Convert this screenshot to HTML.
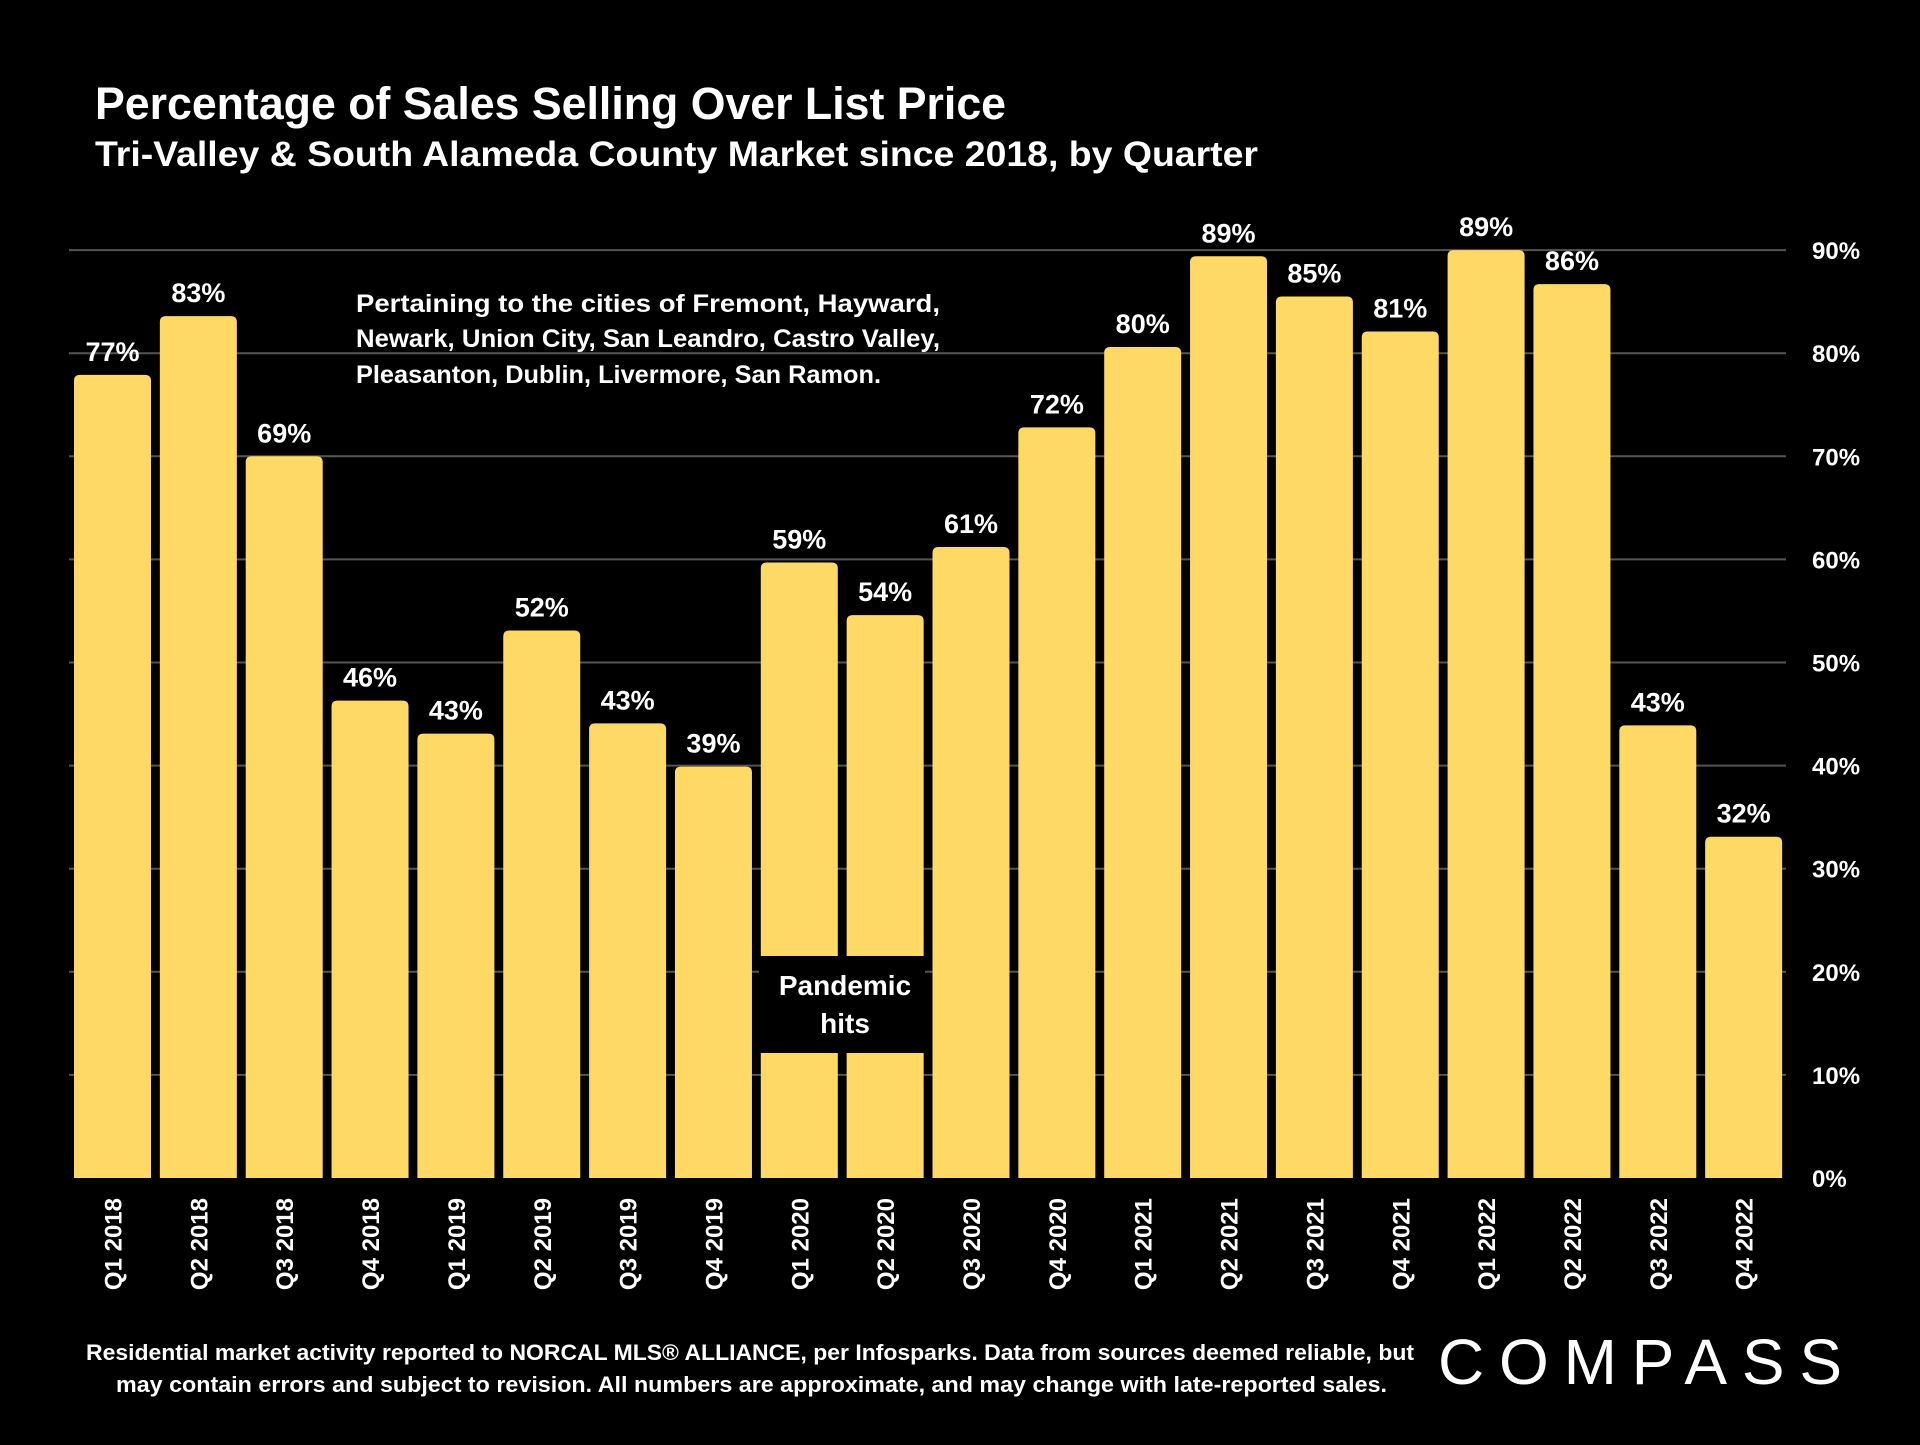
<!DOCTYPE html>
<html><head><meta charset="utf-8">
<style>
html,body{margin:0;padding:0;background:#000;}
body{width:1920px;height:1440px;overflow:hidden;font-family:"Liberation Sans",sans-serif;}
</style></head>
<body>
<svg id="chart" width="1920" height="1440" xmlns="http://www.w3.org/2000/svg">
<rect width="1920" height="1440" fill="#000"/>
<text x="95" y="119" fill="#fff" font-size="45" font-weight="bold" textLength="911" lengthAdjust="spacingAndGlyphs">Percentage of Sales Selling Over List Price</text>
<text x="95" y="166" fill="#fff" font-size="35" font-weight="bold" textLength="1163" lengthAdjust="spacingAndGlyphs">Tri-Valley &amp; South Alameda County Market since 2018, by Quarter</text>
<g id="grid"></g>
<g id="bars"></g>
<g id="labels"></g>
<g id="yticks"></g>
<g id="xticks"></g>
<g fill="#fff" font-size="25" font-weight="bold">
<text x="356" y="312" textLength="584" lengthAdjust="spacingAndGlyphs">Pertaining to the cities of Fremont, Hayward,</text>
<text x="356" y="347" textLength="584" lengthAdjust="spacingAndGlyphs">Newark, Union City, San Leandro, Castro Valley,</text>
<text x="356" y="383" textLength="525" lengthAdjust="spacingAndGlyphs">Pleasanton, Dublin, Livermore, San Ramon.</text>
</g>
<rect x="759" y="956" width="166" height="97" fill="#000"/>
<g fill="#fff" font-size="28" font-weight="bold" text-anchor="middle">
<text x="845" y="995">Pandemic</text>
<text x="845" y="1033">hits</text>
</g>
<g fill="#fff" font-size="22" font-weight="bold">
<text x="86" y="1360" textLength="1328" lengthAdjust="spacingAndGlyphs">Residential market activity reported to NORCAL MLS® ALLIANCE, per Infosparks. Data from sources deemed reliable, but</text>
<text x="116" y="1392" textLength="1271" lengthAdjust="spacingAndGlyphs">may contain errors and subject to revision. All numbers are approximate, and may change with late-reported sales.</text>
</g>
<text x="1438" y="1384" fill="#fff" font-size="64" textLength="404" lengthAdjust="spacing">COMPASS</text>
</svg>
<script>
const categories=["Q1 2018","Q2 2018","Q3 2018","Q4 2018","Q1 2019","Q2 2019","Q3 2019","Q4 2019","Q1 2020","Q2 2020","Q3 2020","Q4 2020","Q1 2021","Q2 2021","Q3 2021","Q4 2021","Q1 2022","Q2 2022","Q3 2022","Q4 2022"];
const values=[77.9,83.6,70.0,46.3,43.1,53.1,44.1,39.9,59.7,54.6,61.2,72.8,80.6,89.4,85.5,82.1,90.0,86.7,43.9,33.1];
const valueLabels=["77%","83%","69%","46%","43%","52%","43%","39%","59%","54%","61%","72%","80%","89%","85%","81%","89%","86%","43%","32%"];
const yTicks=[0,10,20,30,40,50,60,70,80,90];
const yTickLabels=["0%","10%","20%","30%","40%","50%","60%","70%","80%","90%"];
const NS="http://www.w3.org/2000/svg";
const y0=1178,yPer=103.1/10,x0=74,pitch=85.85,bw=77;
function yScale(v){return y0-v*yPer;}
function xScale(i){return x0+i*pitch;}
function mk(tag,attrs,parent){const e=document.createElementNS(NS,tag);for(const k in attrs)e.setAttribute(k,attrs[k]);parent.appendChild(e);return e;}
const grid=document.getElementById('grid'),bars=document.getElementById('bars'),labels=document.getElementById('labels'),yt=document.getElementById('yticks'),xt=document.getElementById('xticks');
yTicks.forEach((t,i)=>{
  if(t>0){const l=mk('line',{x1:69,x2:1786,y1:yScale(t),y2:yScale(t),stroke:'#555','stroke-width':2},grid);
  
  }
  const tx=mk('text',{x:1812,y:yScale(t)+9,fill:'#fff','font-size':24,'font-weight':'bold'},yt);
  tx.textContent=yTickLabels[i];
  
  
});
values.forEach((v,i)=>{
  const x=xScale(i),y=yScale(v);
  const r=mk('path',{d:`M${x},${y0} L${x},${y+6} Q${x},${y} ${x+6},${y} L${x+bw-6},${y} Q${x+bw},${y} ${x+bw},${y+6} L${x+bw},${y0} Z`,fill:'#FFD966'},bars);
  
  
  const t=mk('text',{x:x+bw/2,y:y-14,fill:'#fff','font-size':27,'font-weight':'bold','text-anchor':'middle'},labels);
  t.textContent=valueLabels[i];
  
  
  const c=mk('text',{transform:`translate(${x+bw/2+9},1198) rotate(-90)`,fill:'#fff','font-size':24,'font-weight':'bold','text-anchor':'end'},xt);
  c.textContent=categories[i];
  
  
});
</script>
</body></html>
